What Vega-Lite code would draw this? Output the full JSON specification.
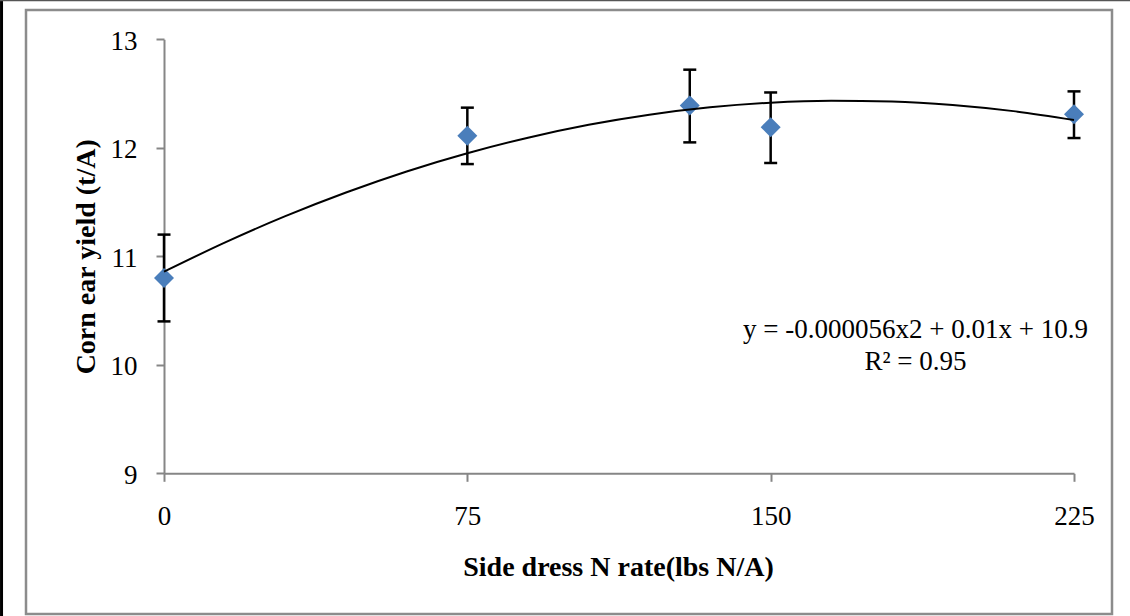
{
  "$schema": "https://vega.github.io/schema/vega-lite/v6.json",
  "width": 1086,
  "height": 604,
  "autosize": "none",
  "padding": {"left": 26, "top": 10, "right": 18, "bottom": 2},
  "background": "white",
  "config": {
    "view": {"stroke": "#8c8c8c", "strokeWidth": 2.5},
    "font": "Liberation Serif"
  },
  "datasets": {
    "points": [
      {"x": 0, "y": 10.8, "lo": 10.4, "hi": 11.2},
      {"x": 75, "y": 12.11, "lo": 11.85, "hi": 12.37},
      {"x": 130, "y": 12.39, "lo": 12.05, "hi": 12.72},
      {"x": 150, "y": 12.19, "lo": 11.86, "hi": 12.51},
      {"x": 225, "y": 12.31, "lo": 12.09, "hi": 12.52}
    ],
    "trend": [
      {"x": 0, "y": 10.858},
      {"x": 15, "y": 11.126},
      {"x": 30, "y": 11.37},
      {"x": 45, "y": 11.588},
      {"x": 60, "y": 11.782},
      {"x": 75, "y": 11.95},
      {"x": 90, "y": 12.093},
      {"x": 105, "y": 12.212},
      {"x": 120, "y": 12.305},
      {"x": 135, "y": 12.373},
      {"x": 150, "y": 12.416},
      {"x": 165, "y": 12.434},
      {"x": 180, "y": 12.427},
      {"x": 195, "y": 12.395},
      {"x": 210, "y": 12.338},
      {"x": 225, "y": 12.256}
    ],
    "note": [
      {"line1": "y = -0.000056x2 + 0.01x + 10.9", "line2": "R² = 0.95"}
    ]
  },
  "layer": [
    {
      "data": {"name": "points"},
      "mark": {"type": "rule", "color": "black", "strokeWidth": 2.5},
      "encoding": {
        "x": {
          "field": "x",
          "type": "quantitative",
          "scale": {"domain": [0, 225], "range": [138, 1048], "nice": false, "zero": false},
          "axis": {
            "values": [0, 75, 150, 225],
            "title": "Side dress N rate(lbs N/A)",
            "offset": -140.7,
            "grid": false,
            "domainColor": "#868686",
            "domainWidth": 2,
            "tickColor": "#868686",
            "tickWidth": 2,
            "tickSize": 8,
            "labelFont": "Liberation Serif",
            "labelFontSize": 27,
            "labelColor": "black",
            "labelPadding": 22,
            "labelFlush": false,
            "labelOverlap": false,
            "titleFont": "Liberation Serif",
            "titleFontSize": 28,
            "titleFontWeight": "bold",
            "titleColor": "black",
            "titleX": 592,
            "titleY": 101.7,
            "titleBaseline": "alphabetic",
            "titleAlign": "center"
          }
        },
        "y": {
          "field": "lo",
          "type": "quantitative",
          "scale": {"domain": [9, 13], "range": [463.3, 29.3], "nice": false, "zero": false},
          "axis": {
            "values": [9, 10, 11, 12, 13],
            "format": "d",
            "title": "Corn ear yield (t/A)",
            "offset": -138,
            "grid": false,
            "domainColor": "#868686",
            "domainWidth": 2,
            "tickColor": "#868686",
            "tickWidth": 2,
            "tickSize": 8,
            "labelFont": "Liberation Serif",
            "labelFontSize": 27,
            "labelColor": "black",
            "labelPadding": 19,
            "labelOffset": 2,
            "labelFlush": false,
            "labelOverlap": false,
            "titleFont": "Liberation Serif",
            "titleFontSize": 28,
            "titleFontWeight": "bold",
            "titleColor": "black",
            "titleX": -70,
            "titleY": 246.3,
            "titleAngle": -90,
            "titleBaseline": "alphabetic",
            "titleAlign": "center"
          }
        },
        "y2": {"field": "hi"}
      }
    },
    {
      "data": {"name": "points"},
      "mark": {"type": "tick", "orient": "horizontal", "color": "black", "size": 13, "thickness": 2.5, "opacity": 1},
      "encoding": {
        "x": {"field": "x", "type": "quantitative"},
        "y": {"field": "lo", "type": "quantitative"}
      }
    },
    {
      "data": {"name": "points"},
      "mark": {"type": "tick", "orient": "horizontal", "color": "black", "size": 13, "thickness": 2.5, "opacity": 1},
      "encoding": {
        "x": {"field": "x", "type": "quantitative"},
        "y": {"field": "hi", "type": "quantitative"}
      }
    },
    {
      "data": {"name": "points"},
      "mark": {"type": "point", "shape": "diamond", "filled": true, "size": 400, "color": "#4A7EBB", "opacity": 1},
      "encoding": {
        "x": {"field": "x", "type": "quantitative"},
        "y": {"field": "y", "type": "quantitative"}
      }
    },
    {
      "data": {"name": "trend"},
      "mark": {"type": "line", "color": "black", "strokeWidth": 2, "interpolate": "monotone"},
      "encoding": {
        "x": {"field": "x", "type": "quantitative"},
        "y": {"field": "y", "type": "quantitative"}
      }
    },
    {
      "data": {"name": "note"},
      "mark": {"type": "text", "font": "Liberation Serif", "fontSize": 27, "color": "black", "align": "center", "baseline": "alphabetic"},
      "encoding": {
        "x": {"datum": 185.8, "type": "quantitative"},
        "y": {"datum": 10.247, "type": "quantitative"},
        "text": {"field": "line1"}
      }
    },
    {
      "data": {"name": "note"},
      "mark": {"type": "text", "font": "Liberation Serif", "fontSize": 27, "color": "black", "align": "center", "baseline": "alphabetic"},
      "encoding": {
        "x": {"datum": 185.8, "type": "quantitative"},
        "y": {"datum": 9.952, "type": "quantitative"},
        "text": {"field": "line2"}
      }
    },
    {
      "data": {"name": "note"},
      "mark": {"type": "rule", "color": "black", "strokeWidth": 3},
      "encoding": {
        "x": {"datum": -40.17, "type": "quantitative"},
        "y": {"datum": 13.362, "type": "quantitative"},
        "y2": {"datum": 7.685}
      }
    },
    {
      "data": {"name": "note"},
      "mark": {"type": "rule", "color": "#555555", "strokeWidth": 1.5},
      "encoding": {
        "x": {"datum": -40.6, "type": "quantitative"},
        "x2": {"datum": 239},
        "y": {"datum": 13.358, "type": "quantitative"}
      }
    }
  ]
}
